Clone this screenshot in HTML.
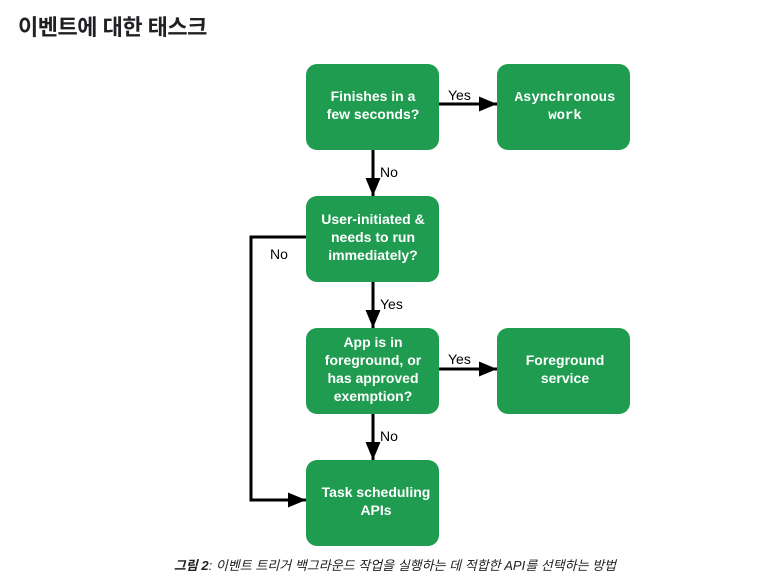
<!DOCTYPE html>
<html><head><meta charset="utf-8"><style>
html,body{margin:0;padding:0;background:#fff;}
body{width:767px;height:585px;overflow:hidden;position:relative;font-family:"Liberation Sans","Noto Sans CJK KR",sans-serif;}
h1{position:absolute;left:18px;top:10px;margin:0;font-size:22px;font-weight:700;color:#202124;font-family:"Liberation Sans","Noto Sans CJK KR",sans-serif;letter-spacing:-0.5px;}
.cap{position:absolute;left:0;width:100%;top:555px;text-align:center;font-size:13px;font-style:italic;color:#202124;padding-left:23px;box-sizing:border-box;}
</style></head><body>
<h1>이벤트에 대한 태스크</h1>
<svg width="767" height="585" style="position:absolute;left:0;top:0" font-family="Liberation Sans, sans-serif">
<defs>
<marker id="a" markerWidth="6" markerHeight="5" refX="6" refY="2.5" orient="auto" markerUnits="strokeWidth">
<path d="M0,0 L6,2.5 L0,5 z" fill="#000"/></marker>
</defs>
<g fill="#1f9c50">
<rect x="306" y="64" width="133" height="86" rx="11"/>
<rect x="497" y="64" width="133" height="86" rx="11"/>
<rect x="306" y="196" width="133" height="86" rx="11"/>
<rect x="306" y="328" width="133" height="86" rx="11"/>
<rect x="497" y="328" width="133" height="86" rx="11"/>
<rect x="306" y="460" width="133" height="86" rx="11"/>
</g>
<g stroke="#000" stroke-width="3" fill="none" marker-end="url(#a)">
<line x1="439" y1="104" x2="497" y2="104"/>
<line x1="373" y1="150" x2="373" y2="196"/>
<line x1="373" y1="282" x2="373" y2="328"/>
<line x1="439" y1="369" x2="497" y2="369"/>
<line x1="373" y1="414" x2="373" y2="460"/>
<polyline points="306,237 251,237 251,500 306,500"/>
</g>
<g font-size="14" fill="#000">
<text x="448" y="100">Yes</text>
<text x="380" y="177">No</text>
<text x="380" y="309">Yes</text>
<text x="448" y="364">Yes</text>
<text x="380" y="441">No</text>
<text x="270" y="259">No</text>
</g>
<g fill="#fff" font-size="14" font-weight="bold" text-anchor="middle">
<text x="373" y="101">Finishes in a</text>
<text x="373" y="119">few seconds?</text>
<text x="565" y="101" font-family="Liberation Mono, monospace">Asynchronous</text>
<text x="565" y="119" font-family="Liberation Mono, monospace">work</text>
<text x="373" y="224">User-initiated &amp;</text>
<text x="373" y="242">needs to run</text>
<text x="373" y="260">immediately?</text>
<text x="373" y="347">App is in</text>
<text x="373" y="365">foreground, or</text>
<text x="373" y="383">has approved</text>
<text x="373" y="401">exemption?</text>
<text x="565" y="365">Foreground</text>
<text x="565" y="383">service</text>
<text x="376" y="497">Task scheduling</text>
<text x="376" y="515">APIs</text>
</g>
</svg>
<div class="cap"><b>그림 2</b>: 이벤트 트리거 백그라운드 작업을 실행하는 데 적합한 API를 선택하는 방법</div>
</body></html>
